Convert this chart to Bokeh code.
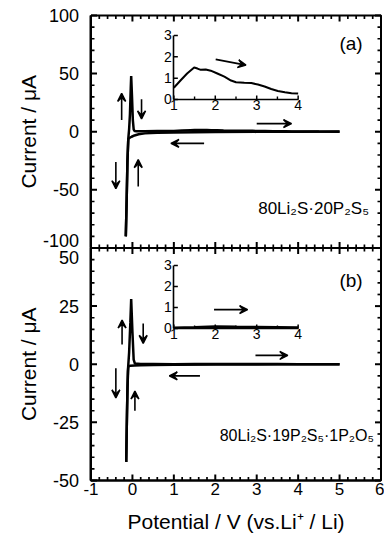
import numpy as np
from bokeh.plotting import figure
from bokeh.models import (Range1d, LinearAxis, FixedTicker, Label, Arrow, VeeHead,
                          PrintfTickFormatter)
from bokeh.embed import file_html
from bokeh.resources import INLINE

# ---------------- data ----------------
x_ticks = [-1, 0, 1, 2, 3, 4, 5, 6]
x_minor = [-0.8, -0.6, -0.4, -0.2, 0.2, 0.4, 0.6, 0.8, 1.2, 1.4, 1.6, 1.8, 2.2, 2.4, 2.6, 2.8,
           3.2, 3.4, 3.6, 3.8, 4.2, 4.4, 4.6, 4.8, 5.2, 5.4, 5.6, 5.8]
top_y_ticks = [-100, -50, 0, 50, 100]
top_y_minor = [-90, -80, -70, -60, -40, -30, -20, -10, 10, 20, 30, 40, 60, 70, 80, 90]
bot_y_ticks = [-50, -25, 0, 25, 50]
bot_y_minor = [-45, -40, -35, -30, -20, -15, -10, -5, 5, 10, 15, 20, 30, 35, 40, 45]
inset_x_ticks = [1, 2, 3, 4]
inset_x_minor = [1.5, 2.5, 3.5]
inset_y_ticks = [0, 1, 2, 3]

# (a) 80Li2S-20P2S5
a_cath_x = [5.0, 4.0, 3.0, 2.0, 1.5, 1.0, 0.6, 0.3, 0.15, 0.05, -0.02, -0.07, -0.1, -0.12, -0.14, -0.16]
a_cath_y = [0.2, 0.1, -0.1, -0.3, -0.4, -0.6, -0.9, -1.4, -2.2, -3.2, -4.3, -5.2, -6.5, -25, -60, -90]
a_anod_x = [-0.16, -0.14, -0.12, -0.1, -0.08, -0.06, -0.04, -0.03, -0.01, 0.01, 0.03, 0.05, 0.1, 0.3,
            0.6, 1.0, 1.2, 1.4, 1.5, 1.65, 1.8, 1.9, 2.05, 2.2, 2.4, 2.5, 2.7, 2.9, 3.0, 3.2, 3.4,
            3.5, 3.7, 3.85, 4.0, 4.5, 5.0]
a_anod_y = [-90, -60, -25, -6, 2, 15, 38, 48, 30, 10, 2, 0.6, 0.4, 0.5, 0.6, 0.55, 1.0, 1.35, 1.5,
            1.4, 1.42, 1.35, 1.22, 1.07, 0.89, 0.81, 0.78, 0.77, 0.70, 0.6, 0.49, 0.40, 0.34, 0.29,
            0.28, 0.15, 0.1]
a_inset_x = [1.0, 1.16, 1.32, 1.49, 1.57, 1.65, 1.77, 1.89, 2.05, 2.22, 2.38, 2.5, 2.7, 2.87, 3.03,
             3.19, 3.35, 3.51, 3.68, 3.84, 4.0]
a_inset_y = [0.55, 0.89, 1.22, 1.50, 1.45, 1.39, 1.41, 1.35, 1.22, 1.07, 0.89, 0.81, 0.78, 0.77,
             0.70, 0.61, 0.49, 0.40, 0.34, 0.29, 0.28]

# (b) 80Li2S-19P2S5-1P2O5
b_cath_x = [5.0, 4.0, 3.0, 2.0, 1.0, 0.5, 0.2, 0.05, -0.05, -0.1, -0.12, -0.14, -0.15]
b_cath_y = [0.0, 0.0, -0.1, -0.1, -0.2, -0.3, -0.4, -0.5, -0.6, -1.0, -10, -30, -42]
b_anod_x = [-0.15, -0.13, -0.11, -0.08, -0.05, -0.03, 0.0, 0.03, 0.06, 0.2, 0.5, 1.0, 1.5, 2.0,
            2.5, 3.0, 3.5, 4.0, 4.5, 5.0]
b_anod_y = [-42, -20, -3, 5, 18, 28, 14, 2, 0.3, 0.1, 0.1, 0.05, 0.07, 0.08, 0.07, 0.06, 0.06,
            0.05, 0.05, 0.05]
b_inset_x = [1.0, 1.5, 2.0, 2.5, 3.0, 3.5, 4.0]
b_inset_y = [0.03, 0.06, 0.1, 0.08, 0.07, 0.06, 0.05]

# arrows: (x_start, y_start, x_end, y_end)
a_arrows = [(-0.26, 10, -0.26, 33), (0.22, 28, 0.22, 11), (-0.4, -26, -0.4, -49),
            (0.14, -47, 0.14, -24), (1.73, -10, 0.93, -10), (3.0, 7, 3.84, 7)]
a_inset_arrow = (2.01, 1.88, 2.74, 1.61)
b_arrows = [(-0.25, 8.5, -0.25, 19), (0.26, 17.5, 0.26, 9), (-0.4, -1.7, -0.4, -14.5),
            (0.06, -20, 0.06, -11.5), (1.63, -5, 0.89, -5), (2.97, 3.8, 3.75, 3.8)]
b_inset_arrow = (1.97, 0.9, 2.78, 0.9)

FONT = "Liberation Sans"

# ranges: the plotting frame covers the whole canvas; panels are placed through the ranges
XR = (-3.1844, 6.0845)
YR = {"top": (-345.59, 112.90), "bot": (-72.80, 156.45),
      "inA": (-20.344, 4.6406), "inB": (-9.762, 15.619)}
W, H = 384, 533
XPX = (XR[1] - XR[0]) / W                            # x units per pixel
YPX = {k: (v[1] - v[0]) / H for k, v in YR.items()}  # y units per pixel

p = figure(width=W, height=H, x_range=Range1d(*XR), y_range=Range1d(*YR["top"]),
           x_axis_type=None, y_axis_type=None, output_backend="svg", toolbar_location=None,
           min_border_left=0, min_border_right=0, min_border_top=0, min_border_bottom=0)
p.title.visible = False
p.extra_y_ranges = {k: Range1d(*v) for k, v in YR.items()}
p.xgrid.visible = False
p.ygrid.visible = False
p.outline_line_color = None
p.background_fill_color = "white"
p.border_fill_color = "white"


def style(ax, fs="17px", standoff=5, lw=2):
    ax.major_tick_in = 0
    ax.major_tick_out = 0
    ax.minor_tick_in = 0
    ax.minor_tick_out = 0
    ax.axis_line_width = lw
    ax.axis_line_color = "black"
    ax.major_label_text_font = FONT
    ax.major_label_text_color = "black"
    ax.major_label_standoff = standoff
    ax.major_label_text_font_size = fs
    ax.formatter = PrintfTickFormatter(format="%d")


def hticks(ys, x_at, length_px, direction, rn, lw=2):
    """horizontal tick marks on a vertical edge"""
    x1 = x_at + direction * length_px * XPX
    p.segment(x0=[x_at] * len(ys), y0=ys, x1=[x1] * len(ys), y1=ys,
              line_color="black", line_width=lw, y_range_name=rn)


def vticks(xs, y_at, length_px, direction, rn, lw=2):
    """vertical tick marks on a horizontal edge"""
    y1 = y_at + direction * length_px * YPX[rn]
    p.segment(x0=xs, y0=[y_at] * len(xs), x1=xs, y1=[y1] * len(xs),
              line_color="black", line_width=lw, y_range_name=rn)


# panel frames
for rn, yt in (("top", top_y_ticks), ("bot", bot_y_ticks)):
    p.line([x_ticks[0], x_ticks[-1], x_ticks[-1], x_ticks[0], x_ticks[0]],
           [yt[-1], yt[-1], yt[0], yt[0], yt[-1]], line_color="black", line_width=2,
           y_range_name=rn)

# left labelled axes (labels only; ticks drawn below)
ax = LinearAxis(ticker=FixedTicker(ticks=top_y_ticks[1:]), y_range_name="top",
                fixed_location=x_ticks[0], bounds=(top_y_ticks[0], top_y_ticks[-1]))
style(ax, fs="18px", standoff=12)
p.add_layout(ax, "left")
ax = LinearAxis(ticker=FixedTicker(ticks=bot_y_ticks[:-1]), y_range_name="bot",
                fixed_location=x_ticks[0], bounds=(bot_y_ticks[0], bot_y_ticks[-1]))
style(ax, fs="18px", standoff=12)
p.add_layout(ax, "left")
# bottom labelled axis
ax = LinearAxis(ticker=FixedTicker(ticks=x_ticks), y_range_name="bot",
                fixed_location=bot_y_ticks[0], bounds=(x_ticks[0], x_ticks[-1]))
style(ax, fs="17px", standoff=3)
p.add_layout(ax, "below")

# tick marks of the two panels (inward; both ways on the shared boundary)
for rn, yt, ym in (("top", top_y_ticks, top_y_minor), ("bot", bot_y_ticks, bot_y_minor)):
    hticks(yt, x_ticks[0], 6, +1, rn)
    hticks(ym, x_ticks[0], 3.5, +1, rn, lw=1.7)
    hticks(yt, x_ticks[-1], 6, -1, rn)
    hticks(ym, x_ticks[-1], 3.5, -1, rn, lw=1.7)
vticks(x_ticks, top_y_ticks[-1], 6, -1, "top")
vticks(x_minor, top_y_ticks[-1], 3.5, -1, "top", lw=1.7)
vticks(x_ticks, bot_y_ticks[0], 6, +1, "bot")
vticks(x_minor, bot_y_ticks[0], 3.5, +1, "bot", lw=1.7)
for d in (+1, -1):
    vticks(x_ticks, top_y_ticks[0], 6, d, "top")
    vticks(x_minor, top_y_ticks[0], 3.5, d, "top", lw=1.7)

# inset axes
for rn in ["inA", "inB"]:
    ay = LinearAxis(ticker=FixedTicker(ticks=inset_y_ticks), y_range_name=rn,
                    fixed_location=inset_x_ticks[0], bounds=(inset_y_ticks[0], inset_y_ticks[-1]))
    style(ay, fs="14px", standoff=2, lw=1.6)
    p.add_layout(ay, "left")
    axx = LinearAxis(ticker=FixedTicker(ticks=inset_x_ticks), y_range_name=rn,
                     fixed_location=inset_y_ticks[0], bounds=(inset_x_ticks[0], inset_x_ticks[-1]))
    style(axx, fs="14px", standoff=1, lw=1.6)
    p.add_layout(axx, "below")
    hticks(inset_y_ticks, inset_x_ticks[0], 4, +1, rn, lw=1.5)
    vticks(inset_x_ticks, inset_y_ticks[0], 4, +1, rn, lw=1.5)
    vticks(inset_x_minor, inset_y_ticks[0], 3, +1, rn, lw=1.4)

# curves
p.line(a_cath_x, a_cath_y, line_color="black", line_width=2.5, y_range_name="top")
p.line(a_anod_x, a_anod_y, line_color="black", line_width=2.5, y_range_name="top")
p.line(b_cath_x, b_cath_y, line_color="black", line_width=2.5, y_range_name="bot")
p.line(b_anod_x, b_anod_y, line_color="black", line_width=2.5, y_range_name="bot")
p.line(a_inset_x, a_inset_y, line_color="black", line_width=2, y_range_name="inA")
p.line(b_inset_x, b_inset_y, line_color="black", line_width=2.5, y_range_name="inB")


def arrow(x0, y0, x1, y1, rn):
    p.add_layout(Arrow(end=VeeHead(size=8, line_width=1.5, line_color="black", fill_color="black"),
                       x_start=x0, y_start=y0, x_end=x1, y_end=y1, line_width=1.6,
                       line_color="black", y_range_name=rn))


for a in a_arrows:
    arrow(*a, "top")
arrow(*a_inset_arrow, "inA")
for a in b_arrows:
    arrow(*a, "bot")
arrow(*b_inset_arrow, "inB")


def label(x, y, text, rn, size, align="center", angle=0.0):
    p.add_layout(Label(x=x, y=y, text=text, y_range_name=rn, text_font=FONT,
                       text_font_size=size, text_align=align, text_baseline="middle",
                       text_color="black", angle=angle))


# boundary tick labels (shifted apart as in the original)
label(-1.29, -93.5, str(top_y_ticks[0]), "top", "18px", align="right")
label(-1.29, 45.9, str(bot_y_ticks[-1]), "bot", "18px", align="right")
# axis titles
label(-2.50, 0, "Current / \u03bcA", "top", "21px", angle=np.pi / 2)
label(-2.50, 0, "Current / \u03bcA", "bot", "21px", angle=np.pi / 2)
label(2.5, -67.6, "Potential / V (vs.Li\u207a / Li)", "bot", "21px")
# panel texts
label(5.276, 76, "(a)", "top", "19px")
label(5.276, 36, "(b)", "bot", "19px")
label(5.71, -66, "80Li\u2082S\u00b720P\u2082S\u2085", "top", "17px", align="right")
label(5.83, -30.6, "80Li\u2082S\u00b719P\u2082S\u2085\u00b71P\u2082O\u2085", "bot", "16px", align="right")

open("out.html", "w").write(file_html(p, INLINE))
